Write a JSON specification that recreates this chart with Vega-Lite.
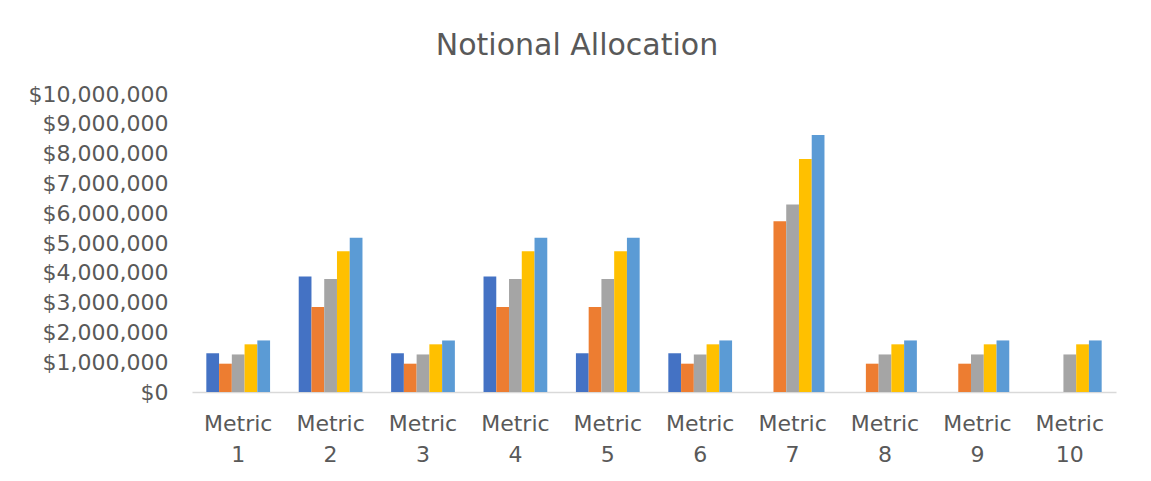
{
  "$schema": "https://vega.github.io/schema/vega-lite/v6.json",
  "autosize": {"type": "none"},
  "padding": {"left": 192, "top": 94, "right": 35, "bottom": 89},
  "width": 924,
  "height": 298,
  "background": "white",
  "title": {
    "text": "Notional Allocation",
    "anchor": "middle",
    "dx": -77,
    "dy": 41,
    "offset": 39,
    "baseline": "alphabetic",
    "font": "DejaVu Sans",
    "fontSize": 30,
    "fontWeight": "normal",
    "color": "#595959"
  },
  "data": {
    "values": [
      {"metric": "Metric 1", "series": "Series 1", "value": 1300000},
      {"metric": "Metric 1", "series": "Series 2", "value": 950000},
      {"metric": "Metric 1", "series": "Series 3", "value": 1260000},
      {"metric": "Metric 1", "series": "Series 4", "value": 1600000},
      {"metric": "Metric 1", "series": "Series 5", "value": 1730000},
      {"metric": "Metric 2", "series": "Series 1", "value": 3880000},
      {"metric": "Metric 2", "series": "Series 2", "value": 2850000},
      {"metric": "Metric 2", "series": "Series 3", "value": 3790000},
      {"metric": "Metric 2", "series": "Series 4", "value": 4720000},
      {"metric": "Metric 2", "series": "Series 5", "value": 5180000},
      {"metric": "Metric 3", "series": "Series 1", "value": 1300000},
      {"metric": "Metric 3", "series": "Series 2", "value": 950000},
      {"metric": "Metric 3", "series": "Series 3", "value": 1260000},
      {"metric": "Metric 3", "series": "Series 4", "value": 1600000},
      {"metric": "Metric 3", "series": "Series 5", "value": 1730000},
      {"metric": "Metric 4", "series": "Series 1", "value": 3880000},
      {"metric": "Metric 4", "series": "Series 2", "value": 2850000},
      {"metric": "Metric 4", "series": "Series 3", "value": 3790000},
      {"metric": "Metric 4", "series": "Series 4", "value": 4720000},
      {"metric": "Metric 4", "series": "Series 5", "value": 5180000},
      {"metric": "Metric 5", "series": "Series 1", "value": 1300000},
      {"metric": "Metric 5", "series": "Series 2", "value": 2850000},
      {"metric": "Metric 5", "series": "Series 3", "value": 3790000},
      {"metric": "Metric 5", "series": "Series 4", "value": 4720000},
      {"metric": "Metric 5", "series": "Series 5", "value": 5180000},
      {"metric": "Metric 6", "series": "Series 1", "value": 1300000},
      {"metric": "Metric 6", "series": "Series 2", "value": 950000},
      {"metric": "Metric 6", "series": "Series 3", "value": 1260000},
      {"metric": "Metric 6", "series": "Series 4", "value": 1600000},
      {"metric": "Metric 6", "series": "Series 5", "value": 1730000},
      {"metric": "Metric 7", "series": "Series 2", "value": 5730000},
      {"metric": "Metric 7", "series": "Series 3", "value": 6290000},
      {"metric": "Metric 7", "series": "Series 4", "value": 7820000},
      {"metric": "Metric 7", "series": "Series 5", "value": 8620000},
      {"metric": "Metric 8", "series": "Series 2", "value": 950000},
      {"metric": "Metric 8", "series": "Series 3", "value": 1260000},
      {"metric": "Metric 8", "series": "Series 4", "value": 1600000},
      {"metric": "Metric 8", "series": "Series 5", "value": 1730000},
      {"metric": "Metric 9", "series": "Series 2", "value": 950000},
      {"metric": "Metric 9", "series": "Series 3", "value": 1260000},
      {"metric": "Metric 9", "series": "Series 4", "value": 1600000},
      {"metric": "Metric 9", "series": "Series 5", "value": 1730000},
      {"metric": "Metric 10", "series": "Series 3", "value": 1260000},
      {"metric": "Metric 10", "series": "Series 4", "value": 1600000},
      {"metric": "Metric 10", "series": "Series 5", "value": 1730000}
    ]
  },
  "mark": {"type": "bar"},
  "encoding": {
    "x": {
      "field": "metric",
      "type": "nominal",
      "sort": ["Metric 1", "Metric 2", "Metric 3", "Metric 4", "Metric 5", "Metric 6", "Metric 7", "Metric 8", "Metric 9", "Metric 10"],
      "scale": {"paddingInner": 0.31, "paddingOuter": 0.155},
      "axis": {
        "title": null,
        "labelAngle": 0,
        "labelExpr": "split(datum.label, ' ')",
        "labelLineHeight": 31,
        "labelFont": "DejaVu Sans",
        "labelFontSize": 22,
        "labelColor": "#595959",
        "labelPadding": 21,
        "ticks": false,
        "domainColor": "#d9d9d9",
        "domainWidth": 1.5,
        "grid": false
      }
    },
    "xOffset": {"field": "series", "type": "nominal", "scale": {"paddingInner": 0}},
    "y": {
      "field": "value",
      "type": "quantitative",
      "scale": {"domain": [0, 10000000]},
      "axis": {
        "title": null,
        "values": [0, 1000000, 2000000, 3000000, 4000000, 5000000, 6000000, 7000000, 8000000, 9000000, 10000000],
        "format": "$,.0f",
        "labelFont": "DejaVu Sans",
        "labelFontSize": 22,
        "labelColor": "#595959",
        "labelPadding": 24,
        "ticks": false,
        "domain": false,
        "grid": false
      }
    },
    "color": {
      "field": "series",
      "type": "nominal",
      "scale": {"range": ["#4472C4", "#ED7D31", "#A5A5A5", "#FFC000", "#5B9BD5"]},
      "legend": null
    }
  },
  "config": {"view": {"stroke": null}}
}
